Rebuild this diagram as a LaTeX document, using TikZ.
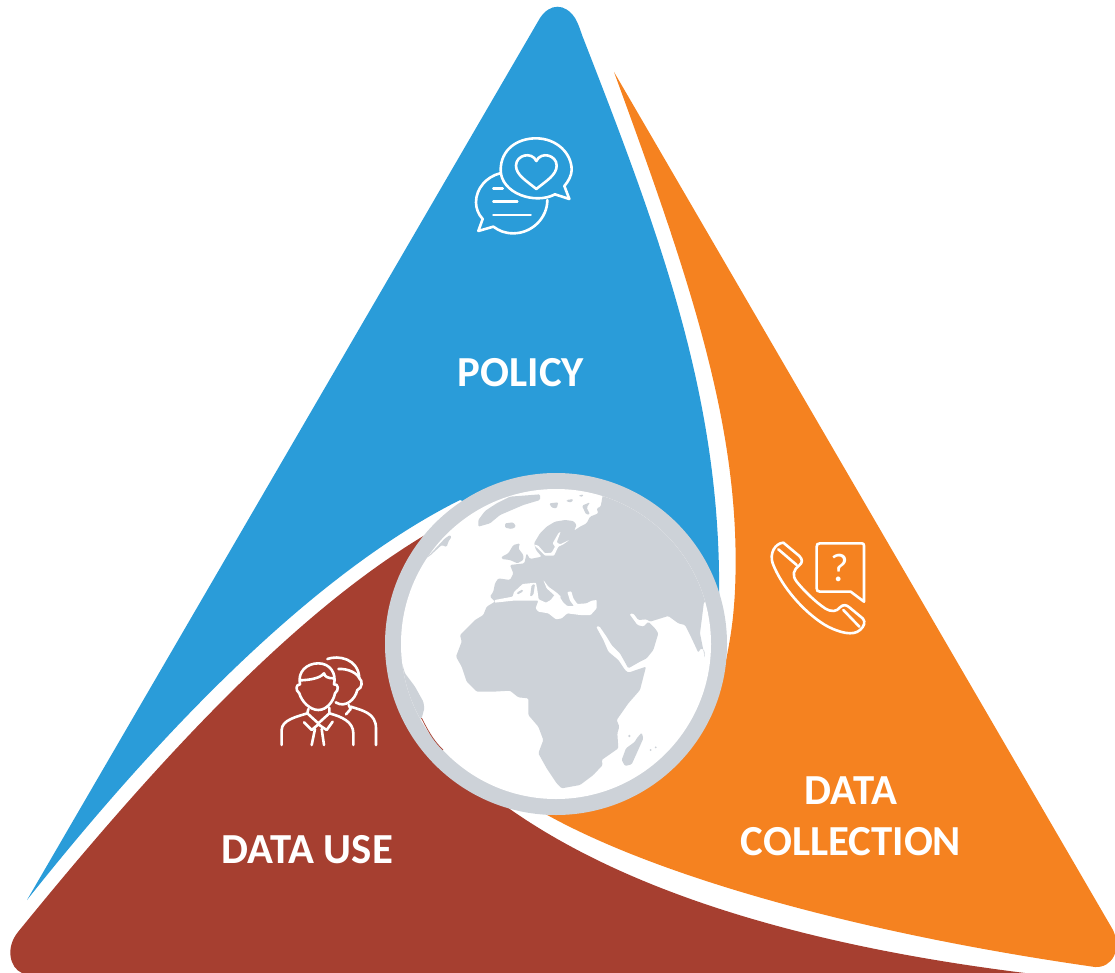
\documentclass[tikz,border=0pt]{standalone}
\usepackage{fontspec}
\setmainfont{Carlito}
\definecolor{cblue}{HTML}{2A9CD9}
\definecolor{corange}{HTML}{F58220}
\definecolor{cred}{HTML}{A63F30}
\definecolor{cgray}{HTML}{CDD2D8}
\tikzset{
  zoomed/.style 2 args={shift={(#1,#2)},x=0.33333pt,y=-0.33333pt},
  icon/.style={draw=white,line width=2.6pt,line join=round,line cap=round},
  land/.style={fill=cgray,draw=none,rounded corners=1.2pt},
  sea/.style={fill=white,draw=none,rounded corners=0.8pt},
  label/.style={text=white,font=\fontsize{42.8}{51}\selectfont\bfseries,align=center,inner sep=0pt}
}
\begin{document}
\begin{tikzpicture}[x=1pt,y=-1pt]
\useasboundingbox (0,0) rectangle (1115,973);
\clip (0,0) rectangle (1115,973);
% orange
\fill[corange] (614,72) .. controls (690,280) and (742,430) .. (735,590)
  .. controls (733,630) and (728,650) .. (722,680) -- (530,805)
  .. controls (640,872) and (850,932) .. (1095,967)
  .. controls (1112,968) and (1122,950) .. (1113,930) -- cycle;
% red
\fill[cred] (18,932) .. controls (170,745) and (300,610) .. (425,535)
  -- (500,802) .. controls (620,890) and (800,945) .. (1025,973)
  -- (22,973) .. controls (10,968) and (5,948) .. (18,932) -- cycle;
% blue
\fill[cblue] (27,900) -- (540,18) .. controls (550,3) and (565,3) .. (575,18)
  .. controls (578,23) and (580,29) .. (582,35)
  .. controls (660,235) and (722,400) .. (719,600) -- (460,500)
  .. controls (320,570) and (170,720) .. (27,900) -- cycle;
% globe
\fill[cgray] (556,644) circle[radius=171];
\node[circle,fill=white,minimum size=310pt,inner sep=0pt] (globe) at (556,644) {};
\draw[cred,line width=0.7pt] (421.5,718) .. controls (430,735) and (435,742) .. (443,750);
\begin{scope}
\clip (556,644) circle[radius=155];
\begin{scope}[zoomed={380}{470}]
\fill[land] (670,65) -- (662,110) -- (650,115) -- (655,130) -- (630,140) -- (620,160) -- (600,170)
 -- (582,182) -- (590,165) -- (580,153) -- (555,150) -- (525,155) -- (500,170) -- (480,190)
 -- (462,220) -- (468,240) -- (485,260) -- (450,267) -- (440,250) -- (433,280) -- (390,285)
 -- (400,310) -- (390,330) -- (355,325) -- (345,340) -- (340,365) -- (330,380) -- (345,395)
 -- (320,410) -- (310,435) -- (285,450) -- (260,475) -- (240,495) -- (245,515) -- (228,560)
 -- (245,590) -- (260,635) -- (290,665) -- (340,665) -- (390,662) -- (415,682) -- (445,685)
 -- (445,735) -- (475,770) -- (490,810) -- (475,850) -- (500,895) -- (530,940) -- (545,955)
 -- (600,945) -- (640,915) -- (668,885) -- (665,870) -- (715,835) -- (712,790) -- (718,770)
 -- (710,750) -- (745,700) -- (780,660) -- (798,590) -- (745,608) -- (735,600) -- (715,570)
 -- (685,545) -- (670,510) -- (648,470) -- (658,468) -- (680,500) -- (695,525) -- (720,550)
 -- (745,595) -- (780,575) -- (800,565) -- (820,540) -- (835,490) -- (825,475) -- (805,455) -- (790,470)
 -- (772,465) -- (748,432) -- (760,430) -- (775,450) -- (800,448) -- (810,455) -- (865,438)
 -- (895,460) -- (915,465) -- (935,505) -- (955,548) -- (962,535) -- (973,540) -- (975,565)
 -- (960,490) -- (972,395) -- (1100,395) -- (1100,60) -- cycle;
% South America
\fill[land] (60,560) -- (75,610) -- (105,650) -- (130,695) -- (133,715) -- (125,745) -- (60,760) -- (0,600) -- cycle;
% Madagascar and islands
\fill[land] (770,805) -- (785,788) -- (790,805) -- (770,850) -- (755,883) -- (735,888) -- (725,870) -- (738,835) -- (765,815) -- cycle;
\fill[land] (748,798) circle[radius=4];
\fill[land] (812,840) circle[radius=3];
\fill[land] (827,832) circle[radius=3];
\end{scope}
\begin{scope}[zoomed={430}{485}]
% north-west land, Greenland, Iceland, Britain, Arctic islands
\fill[land] (-20,225) -- (0,208) -- (30,176) -- (45,160) -- (60,150) -- (65,155) -- (55,170) -- (50,186) -- (35,180) -- (0,212) -- cycle;
\fill[land] (145,125) -- (145,105) -- (165,78) -- (200,55) -- (240,35) -- (330,28) -- (330,45) -- (280,60) -- (210,90) -- (180,115) -- cycle;
\fill[land] (225,115) -- (250,112) -- (258,125) -- (245,132) -- (225,128) -- cycle;
\fill[land] (215,215) -- (235,205) -- (250,180) -- (270,175) -- (265,190) -- (280,210) -- (280,225) -- (262,235) -- (240,225) -- (215,222) -- cycle;
\fill[land] (358,55) -- (385,52) -- (380,70) -- (365,68) -- cycle;
\fill[land] (410,45) -- (430,42) -- (425,52) -- (410,50) -- cycle;
\fill[land] (445,32) -- (460,28) -- (458,36) -- cycle;
\fill[land] (456,62) -- (480,52) -- (470,68) -- (480,88) -- (468,88) -- cycle;
% Baltic
\fill[sea] (310,178) -- (325,182) -- (345,205) -- (365,203) -- (375,185) -- (368,175) -- (385,145) -- (392,140) -- (380,172) -- (390,178) -- (418,165) -- (400,178) -- (385,185) -- (372,212) -- (345,212) -- (325,192) -- cycle;
\end{scope}
\begin{scope}[zoomed={480}{580}]
% Mediterranean
\fill[sea] (44,60) -- (98,50) -- (102,36) -- (128,12) -- (168,8) -- (172,30) -- (176,58) -- (198,68) -- (212,60) -- (226,42)
 -- (240,52) -- (250,68) -- (262,78) -- (282,78) -- (270,62) -- (262,36) -- (274,34) -- (280,55) -- (292,72) -- (320,70) -- (335,62) -- (350,60)
 -- (350,85) -- (332,105) -- (300,105) -- (262,100) -- (245,115) -- (228,118) -- (205,100) -- (175,95) -- (167,85) -- (175,62) -- (100,62) -- (44,68) -- cycle;
\fill[sea] (190,0) -- (205,20) -- (230,38) -- (243,50) -- (240,55) -- (222,45) -- (200,25) -- cycle;
\fill[land] (110,38) -- (128,28) -- (130,34) -- (112,44) -- cycle;
\fill[land] (155,15) -- (165,12) -- (160,45) -- (150,50) -- cycle;
\end{scope}
\end{scope}
% chat icon
\begin{scope}[zoomed={460}{125}]
\draw[icon] (285,208) .. controls (225,240) and (122,205) .. (122,135) .. controls (122,75) and (170,40) .. (228,40)
  .. controls (290,40) and (335,85) .. (335,135) .. controls (335,150) and (325,170) .. (313,183) -- (328,222) -- cycle;
\draw[icon] (120,145) .. controls (80,155) and (48,190) .. (48,232) .. controls (48,250) and (55,268) .. (68,282)
  -- (55,318) -- (100,305) .. controls (118,318) and (135,325) .. (160,325) .. controls (215,325) and (262,280) .. (262,225);
\draw[icon] (100,190) -- (128,190);
\draw[icon] (100,230) -- (172,230);
\draw[icon] (100,270) -- (212,270);
\draw[icon] (229,192) .. controls (200,168) and (168,150) .. (168,122) .. controls (168,90) and (215,78) .. (229,108)
  .. controls (243,78) and (290,90) .. (290,122) .. controls (290,150) and (258,168) .. (229,192) -- cycle;
\end{scope}
% phone icon
\begin{scope}[zoomed={760}{530}]
\draw[icon] (70,38) -- (118,78) .. controls (128,88) and (128,98) .. (118,106) .. controls (100,120) and (95,135) .. (110,155)
  .. controls (130,180) and (165,215) .. (195,235) .. controls (215,247) and (230,245) .. (240,232)
  .. controls (250,222) and (260,225) .. (268,232) -- (308,265) .. controls (318,275) and (312,290) .. (300,300)
  .. controls (280,318) and (240,310) .. (195,285) .. controls (130,245) and (65,170) .. (38,100)
  .. controls (28,70) and (45,40) .. (70,38) -- cycle;
\draw[icon] (55,58) -- (110,105);
\draw[icon] (250,240) -- (298,290);
\draw[icon] (180,40) -- (305,40) .. controls (310,40) and (312,42) .. (312,47) -- (312,215) -- (272,185) -- (180,185)
  .. controls (173,185) and (170,182) .. (170,175) -- (170,50) .. controls (170,43) and (173,40) .. (180,40) -- cycle;
\node[text=white,font=\fontsize{40}{48}\selectfont,inner sep=0pt] (qmark) at (240,113) {?};
\end{scope}
% people icon
\begin{scope}[zoomed={270}{645}]
\draw[icon] (90,118) .. controls (78,118) and (75,135) .. (88,145) .. controls (95,170) and (120,195) .. (145,195)
  .. controls (170,195) and (190,170) .. (195,145) .. controls (208,135) and (205,115) .. (192,118);
\draw[icon] (90,118) .. controls (82,80) and (110,55) .. (145,55) .. controls (180,55) and (200,85) .. (192,118);
\draw[icon] (90,106) .. controls (120,105) and (150,100) .. (162,85) .. controls (165,95) and (172,100) .. (192,100);
\draw[icon] (115,192) -- (112,205) .. controls (80,215) and (35,225) .. (35,255) -- (35,300);
\draw[icon] (178,188) -- (178,205) .. controls (215,215) and (250,230) .. (250,265) -- (250,300);
\draw[icon] (112,205) -- (145,235) -- (178,205);
\draw[icon] (102,232) -- (125,255) -- (145,238) -- (170,255) -- (188,230);
\draw[icon] (135,252) -- (125,300);
\draw[icon] (155,252) -- (162,300);
\draw[icon] (172,42) .. controls (205,30) and (265,40) .. (268,100);
\draw[icon] (205,72) .. controls (235,70) and (262,85) .. (268,100) .. controls (278,105) and (278,130) .. (262,135)
  .. controls (255,165) and (225,190) .. (197,172);
\draw[icon] (236,180) -- (242,192) -- (228,208);
\draw[icon] (242,185) .. controls (280,197) and (318,205) .. (318,250) -- (318,300);
\end{scope}
% labels
\node[label] (policy) at (521,373) {POLICY};
\node[label] (use) at (307.5,850) {DATA USE};
\node[label] (collection) at (851,816) {DATA\\COLLECTION};
\end{tikzpicture}
\end{document}
